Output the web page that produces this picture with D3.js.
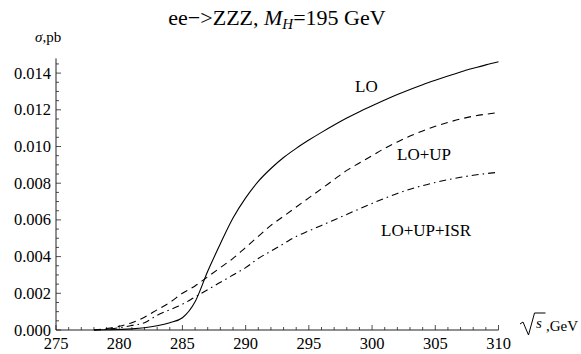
<!DOCTYPE html>
<html><head><meta charset="utf-8">
<script src="https://cdn.jsdelivr.net/npm/d3@7"></script>
<style>
body{margin:0;background:#fff;}
</style></head>
<body><svg id="c" width="581" height="354" font-family="'Liberation Serif', 'Times New Roman', Times, 'DejaVu Serif', serif"></svg>
<script>
const energies = [278,279,280,281,282,283,284,285,286,287,288,289,290,291,292,293,294,295,296,297,298,299,300,301,302,303,304,305,306,307,308,309,310];
const sigmaLO = [0,0.00001,0.00003,0.00006,0.00012,0.00023,0.0004,0.00067,0.00154,0.0032,0.0047,0.0061,0.0072,0.0081,0.0088,0.0094,0.0099,0.01035,0.01077,0.01117,0.01155,0.0119,0.01222,0.01253,0.01283,0.01311,0.01337,0.01361,0.01384,0.01406,0.01426,0.01445,0.01462];
const sigmaUP = [0,0.00008,0.0002,0.0004,0.0007,0.0011,0.0015,0.0020,0.0024,0.0029,0.0034,0.0039,0.0045,0.0051,0.0057,0.0062,0.0067,0.0072,0.0077,0.0082,0.0087,0.0091,0.0095,0.0099,0.01025,0.01057,0.01085,0.0111,0.01131,0.0115,0.01165,0.01176,0.01185];
const sigmaISR = [0,0.00004,0.00012,0.00025,0.0004,0.0008,0.0011,0.0014,0.0018,0.0022,0.0026,0.0030,0.0034,0.0039,0.0043,0.0047,0.0051,0.0054,0.0057,0.0060,0.0063,0.0066,0.0069,0.00718,0.00744,0.00767,0.00787,0.00804,0.00819,0.00832,0.00843,0.00852,0.0086];
const xTicks = [275,280,285,290,295,300,305,310];
const yTicks = [0,0.002,0.004,0.006,0.008,0.010,0.012,0.014];
const seriesNames = ["LO","LO+UP","LO+UP+ISR"];

const svg = d3.select("#c");
const x = d3.scaleLinear().domain([275,310]).range([56,498.5]);
const y = d3.scaleLinear().domain([0,0.002]).range([330,293.3]);
const yTop = 0.0148;

svg.append("line").attr("x1",x(275)).attr("x2",x(310)).attr("y1",y(0)).attr("y2",y(0)).attr("stroke","#222").attr("stroke-width",1);
svg.append("line").attr("x1",x(275)).attr("x2",x(275)).attr("y1",y(0)).attr("y2",y(yTop)).attr("stroke","#222").attr("stroke-width",1);

const xMinor = d3.range(275,310.5,1);
svg.selectAll(".xt").data(xMinor).join("line")
  .attr("x1",d=>x(d)).attr("x2",d=>x(d))
  .attr("y1",y(0)).attr("y2",d=> y(0) - (d%5===0?5:3))
  .attr("stroke","#222").attr("stroke-width",0.8);
svg.selectAll(".xl").data(xTicks).join("text")
  .attr("x",d=>x(d)).attr("y",349).attr("text-anchor","middle").attr("font-size",16.5).text(d=>d);

const yMinor = d3.range(0,0.01476,0.0005);
svg.selectAll(".yt").data(yMinor).join("line")
  .attr("x1",x(275)).attr("x2",(d,i)=> x(275) + (i%4===0?5:3))
  .attr("y1",d=>y(d)).attr("y2",d=>y(d))
  .attr("stroke","#222").attr("stroke-width",0.8);
svg.selectAll(".yl").data(yTicks).join("text")
  .attr("x",51).attr("y",d=>y(d)+5.5).attr("text-anchor","end").attr("font-size",16.5).text(d=>d3.format(".3f")(d));

const mk = arr => energies.map((e,i)=>[e,arr[i]]);
const lineSm = d3.line().x(d=>x(d[0])).y(d=>y(d[1])).curve(d3.curveMonotoneX);
svg.append("path").attr("d",lineSm(mk(sigmaLO))).attr("fill","none").attr("stroke","#000").attr("stroke-width",1.1);
svg.append("path").attr("d",lineSm(mk(sigmaUP))).attr("fill","none").attr("stroke","#000").attr("stroke-width",1.1).attr("stroke-dasharray","7,5");
svg.append("path").attr("d",lineSm(mk(sigmaISR))).attr("fill","none").attr("stroke","#000").attr("stroke-width",1.1).attr("stroke-dasharray","7,4,1.5,4");

svg.append("text").attr("x",355).attr("y",92).attr("font-size",17).text(seriesNames[0]);
svg.append("text").attr("x",397).attr("y",160).attr("font-size",17).text(seriesNames[1]);
svg.append("text").attr("x",381).attr("y",236).attr("font-size",17).text(seriesNames[2]);

const t = svg.append("text").attr("x",277).attr("y",25).attr("text-anchor","middle").attr("font-size",22);
t.append("tspan").text("ee\u2212>ZZZ, ");
t.append("tspan").attr("font-style","italic").text("M");
t.append("tspan").attr("font-style","italic").attr("font-size",15).attr("dy",4).text("H");
t.append("tspan").attr("dy",-4).text("=195 GeV");

const yl = svg.append("text").attr("x",35).attr("y",42).attr("font-size",15);
yl.append("tspan").attr("font-style","italic").text("\u03C3");
yl.append("tspan").text(",pb");

svg.append("path").attr("d","M520,324 L523,322 L528.5,335 L534.5,313 L545.5,313").attr("fill","none").attr("stroke","#000").attr("stroke-width",1);
svg.append("text").attr("x",536).attr("y",328).attr("font-size",15).attr("font-style","italic").text("s");
svg.append("text").attr("x",546).attr("y",331).attr("font-size",15).text(",GeV");
</script></body></html>
